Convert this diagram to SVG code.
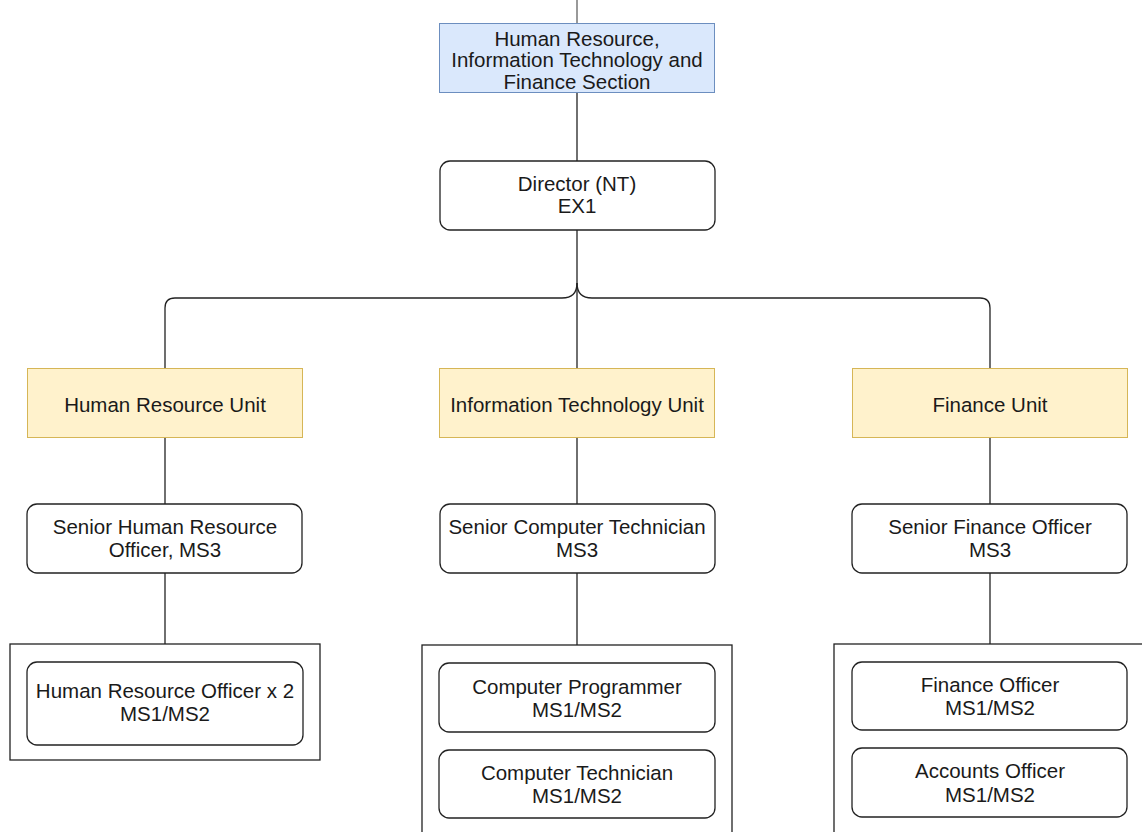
<svg xmlns="http://www.w3.org/2000/svg" width="1142" height="832" viewBox="0 0 1142 832">
<style>
text{font-family:"Liberation Sans",Arial,sans-serif;font-size:20.5px;fill:#1a1a1a;text-anchor:middle}
.blue{fill:#dae8fc;stroke:#6c8ebf;stroke-width:1}
.unit{fill:#fff2cc;stroke:#d6b656;stroke-width:1}
.role{fill:#fff;stroke:#222;stroke-width:1.3}
.cont{fill:#fff;stroke:#222;stroke-width:1.3}
.ln{fill:none;stroke:#222;stroke-width:1.3}
</style>
<rect width="1142" height="832" fill="#fff"/>
<g id="connectors">
<line x1="577" y1="0" x2="577" y2="23" stroke="#999" stroke-width="2"/>
<line class="ln" x1="577" y1="92" x2="577" y2="161"/>
<path class="ln" d="M577 230 V368"/>
<path class="ln" d="M577 283 Q577 298 562 298 H175 Q165 298 165 308 V368"/>
<path class="ln" d="M577 283 Q577 298 592 298 H980 Q990 298 990 308 V368"/>
<line class="ln" x1="165" y1="437" x2="165" y2="504"/>
<line class="ln" x1="577" y1="437" x2="577" y2="504"/>
<line class="ln" x1="990" y1="437" x2="990" y2="504"/>
<line class="ln" x1="165" y1="573" x2="165" y2="644" stroke="#555"/>
<line class="ln" x1="577" y1="573" x2="577" y2="645"/>
<line class="ln" x1="990" y1="573" x2="990" y2="644"/>
</g>
<g id="section">
<rect class="blue" x="439.5" y="23.5" width="275" height="69"/>
<text x="577" y="46">Human Resource,</text>
<text x="577" y="67">Information Technology and</text>
<text x="577" y="89">Finance Section</text>
</g>
<g id="director">
<rect class="role" x="440" y="161" width="275" height="69" rx="10"/>
<text x="577" y="191">Director (NT)</text>
<text x="577" y="213">EX1</text>
</g>
<g id="hr-unit">
<rect class="unit" x="27.5" y="368.5" width="275" height="69"/>
<text x="165" y="412">Human Resource Unit</text>
</g>
<g id="it-unit">
<rect class="unit" x="439.5" y="368.5" width="275" height="69"/>
<text x="577" y="412">Information Technology Unit</text>
</g>
<g id="fin-unit">
<rect class="unit" x="852.5" y="368.5" width="275" height="69"/>
<text x="990" y="412">Finance Unit</text>
</g>
<g id="senior-hr">
<rect class="role" x="27" y="504" width="275" height="69" rx="10"/>
<text x="165" y="534">Senior Human Resource</text>
<text x="165" y="557">Officer, MS3</text>
</g>
<g id="senior-it">
<rect class="role" x="440" y="504" width="275" height="69" rx="10"/>
<text x="577" y="534">Senior Computer Technician</text>
<text x="577" y="557">MS3</text>
</g>
<g id="senior-fin">
<rect class="role" x="852" y="504" width="275" height="69" rx="10"/>
<text x="990" y="534">Senior Finance Officer</text>
<text x="990" y="557">MS3</text>
</g>
<g id="hr-staff">
<rect class="cont" x="10" y="644" width="310" height="116"/>
<rect class="role" x="27" y="662" width="276" height="83" rx="10"/>
<text x="165" y="698">Human Resource Officer x 2</text>
<text x="165" y="721">MS1/MS2</text>
</g>
<g id="it-staff">
<rect class="cont" x="422" y="645" width="310" height="200"/>
<rect class="role" x="439" y="663" width="276" height="69" rx="10"/>
<text x="577" y="694">Computer Programmer</text>
<text x="577" y="717">MS1/MS2</text>
<rect class="role" x="439" y="750" width="276" height="68" rx="10"/>
<text x="577" y="780">Computer Technician</text>
<text x="577" y="803">MS1/MS2</text>
</g>
<g id="fin-staff">
<rect class="cont" x="834" y="644" width="320" height="200"/>
<rect class="role" x="852" y="662" width="275" height="68" rx="10"/>
<text x="990" y="692">Finance Officer</text>
<text x="990" y="715">MS1/MS2</text>
<rect class="role" x="852" y="748" width="275" height="69" rx="10"/>
<text x="990" y="778">Accounts Officer</text>
<text x="990" y="802">MS1/MS2</text>
</g>
</svg>
